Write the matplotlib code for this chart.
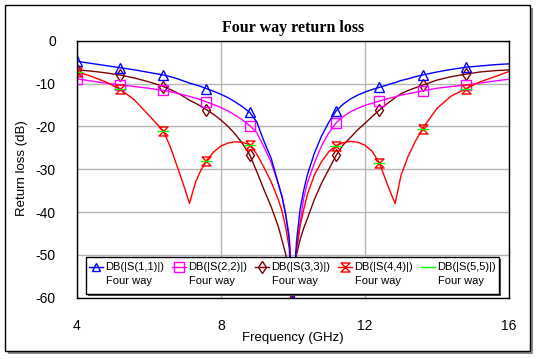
import numpy as np
import matplotlib
matplotlib.use("Agg")
import matplotlib.pyplot as plt
from matplotlib.patches import Rectangle
from matplotlib.lines import Line2D

# frequency samples (GHz)
freq = [4.0, 4.4, 4.8, 5.2, 5.6, 6.0, 6.2, 6.4, 6.6, 6.8, 7.0, 7.13, 7.3, 7.45, 7.6, 7.8,
        8.0, 8.2, 8.4, 8.6, 8.8, 9.0, 9.2, 9.4, 9.6, 9.7, 9.8, 9.9, 10.0, 10.1, 10.2,
        10.3, 10.4, 10.6, 10.8, 11.0, 11.2, 11.4, 11.6, 11.8, 12.0, 12.2, 12.4, 12.6,
        12.7, 12.84, 13.0, 13.2, 13.4, 13.6, 14.0, 14.4, 14.8, 15.2, 15.6, 16.0]

s11 = [-4.8, -5.3, -5.8, -6.3, -6.8, -7.4, -7.7, -8.0, -8.4, -8.9, -9.5, -9.9, -10.3, -10.7, -11.2, -11.8,
       -12.5, -13.3, -14.3, -15.4, -16.7, -19.0, -23.5, -27.5, -33.5, -36.5, -40.5, -46.5, -62.0, -47.0, -39.4,
       -35.0, -31.4, -26.2, -22.2, -19.0, -16.4, -14.8, -13.6, -12.7, -12.0, -11.4, -10.9, -10.4,
       -10.1, -9.8, -9.3, -8.9, -8.4, -8.0, -7.3, -6.7, -6.2, -5.9, -5.6, -5.4]

s22 = [-8.9, -9.4, -9.9, -10.3, -10.7, -11.1, -11.35, -11.6, -11.9, -12.3, -12.7, -13.0, -13.4, -13.8, -14.3, -14.9,
       -15.6, -16.4, -17.4, -18.5, -19.8, -21.5, -24.8, -28.5, -33.5, -36.3, -40.5, -45.5, -62.0, -49.0, -42.5,
       -36.8, -33.3, -28.5, -24.5, -21.5, -19.2, -17.7, -16.6, -15.8, -15.1, -14.6, -14.1, -13.6,
       -13.4, -13.1, -12.7, -12.4, -12.05, -11.7, -11.1, -10.7, -10.3, -9.9, -9.4, -9.0]

s33 = [-6.8, -7.1, -7.5, -8.0, -8.7, -9.6, -10.1, -10.7, -11.4, -12.2, -13.2, -13.9, -14.6, -15.3, -16.1, -17.2,
       -18.5, -20.0, -21.8, -24.0, -26.6, -30.6, -34.8, -38.8, -43.5, -46.6, -49.8, -55.0, -68.0, -50.0, -46.5,
       -43.8, -41.6, -37.0, -33.2, -30.0, -26.8, -24.3, -22.6, -20.8, -19.3, -17.7, -16.2, -14.8,
       -14.2, -13.3, -12.4, -11.6, -11.0, -10.4, -9.2, -8.4, -7.8, -7.3, -7.0, -6.8]

s44 = [-7.2, -8.3, -9.6, -11.3, -13.8, -17.4, -19.2, -21.0, -24.8, -29.6, -34.5, -38.0, -33.0, -30.2, -28.0, -26.0,
       -24.6, -23.9, -23.6, -23.7, -24.3, -26.5, -29.6, -33.0, -37.2, -39.8, -43.5, -48.5, -64.0, -49.0, -43.3,
       -39.5, -36.0, -31.3, -28.2, -25.9, -24.5, -23.8, -23.5, -23.7, -24.4, -25.8, -28.5, -33.0,
       -35.2, -38.0, -31.5, -27.0, -23.5, -20.5, -15.8, -12.9, -11.2, -9.6, -8.4, -7.2]

s55 = list(s44)  # lies under S44 in the picture, only its marks show

marker_freq = [4.0, 5.2, 6.4, 7.6, 8.8, 10.0, 11.2, 12.4, 13.6, 14.8]
names = ["DB(|S(1,1)|)", "DB(|S(2,2)|)", "DB(|S(3,3)|)", "DB(|S(4,4)|)", "DB(|S(5,5)|)"]
sub_name = "Four way"
xticks = [4, 8, 12, 16]
yticks = [0, -10, -20, -30, -40, -50, -60]

W, H = 538, 359
fig = plt.figure(figsize=(W / 100, H / 100), dpi=100)
fig.patch.set_facecolor("white")


def fx(x):
    return x / W


def fy(y):
    return 1 - y / H


# outer frame with shadow
fig.add_artist(Rectangle((fx(8), fy(354)), fx(525), 346 / H, transform=fig.transFigure,
                         facecolor="#8c8c8c", edgecolor="none", zorder=-2))
fig.add_artist(Rectangle((fx(4.5), fy(350.5)), fx(525), 346 / H, transform=fig.transFigure,
                         facecolor="white", edgecolor="black", lw=1, zorder=-1))

ax = fig.add_axes([fx(76.7), fy(297.7), fx(509 - 76.7), (297.7 - 40.7) / H])
ax.set_xlim(4, 16)
ax.set_ylim(-60, 0)
ax.set_xticks(xticks)
ax.set_yticks(yticks)
ax.set_xticklabels([str(t) for t in xticks], fontsize=10, family="Liberation Sans")
ax.set_yticklabels([str(t) for t in yticks], fontsize=10, family="Liberation Sans")
ax.tick_params(length=0)
ax.tick_params(axis="x", pad=15)
ax.tick_params(axis="y", pad=15)
ax.grid(True, color="#b4b4b4", lw=1)
ax.set_axisbelow(True)
for sp in ax.spines.values():
    sp.set_color("black")
    sp.set_linewidth(1)

f = np.array(freq)
mk = [int(np.argmin(np.abs(f - m))) for m in marker_freq]
hourglass = [(-1, 1), (1, 1), (-1, -1), (1, -1), (-1, 1)]

ax.plot(freq, s33, color="#800000", lw=1, marker="d", ms=6, mfc="none", mec="#800000",
        markevery=mk)
ax.plot(freq, s22, color="#ff00ff", lw=1, marker="s", ms=6.5, mfc="none", mec="#ff00ff",
        markevery=mk)
ax.plot(freq, s44, color="#ff0000", lw=1, marker=hourglass, ms=6.5, mfc="none", mec="#ff0000",
        markevery=mk)
ax.plot(freq, s55, color="#00ff00", lw=0, marker="_", ms=8, mec="#00ff00", mew=1, markevery=mk)
ax.plot(freq, s11, color="#0000ff", lw=1, marker="^", ms=7, mfc="none", mec="#0000ff",
        markevery=mk)

# titles
fig.text(fx(292.7), fy(27.5), "Four way return loss", ha="center", va="center",
         fontsize=11.5, fontweight="bold", family="Liberation Serif")
fig.text(fx(292.7), fy(337.7), "Frequency (GHz)", ha="center", va="center",
         fontsize=9.5, family="Liberation Sans")
fig.text(fx(21.7), fy(168), "Return loss (dB)", ha="center", va="center", rotation=90,
         fontsize=9.5, family="Liberation Sans")

# legend box drawn by hand
fig.add_artist(Rectangle((fx(87.5), fy(296)), fx(413), 37.5 / H, transform=fig.transFigure,
                         facecolor="#555555", edgecolor="none", zorder=5))
fig.add_artist(Rectangle((fx(85.5), fy(294)), fx(413), 37.5 / H, transform=fig.transFigure,
                         facecolor="white", edgecolor="black", lw=1, zorder=6))
leg_colors = ["#0000ff", "#ff00ff", "#800000", "#ff0000", "#00ff00"]
leg_markers = ["^", "s", "d", hourglass, None]
leg_ms = [6, 6.5, 6, 6.5, 0]
for i in range(5):
    x0 = 88.7 + i * 83
    fig.add_artist(Line2D([fx(x0), fx(x0 + 14)], [fy(267), fy(267)], transform=fig.transFigure,
                          color=leg_colors[i], lw=1, zorder=7))
    if leg_markers[i] is not None:
        fig.add_artist(Line2D([fx(x0 + 7)], [fy(267)], transform=fig.transFigure, lw=0,
                              marker=leg_markers[i], ms=leg_ms[i], mfc="none",
                              mec=leg_colors[i], zorder=7))
    fig.text(fx(x0 + 16), fy(267), names[i], ha="left", va="center", fontsize=8,
             family="Liberation Sans", zorder=7)
    fig.text(fx(x0 + 17), fy(281.5), sub_name, ha="left", va="center", fontsize=8,
             family="Liberation Sans", zorder=7)

fig.savefig("out.png", dpi=100)
